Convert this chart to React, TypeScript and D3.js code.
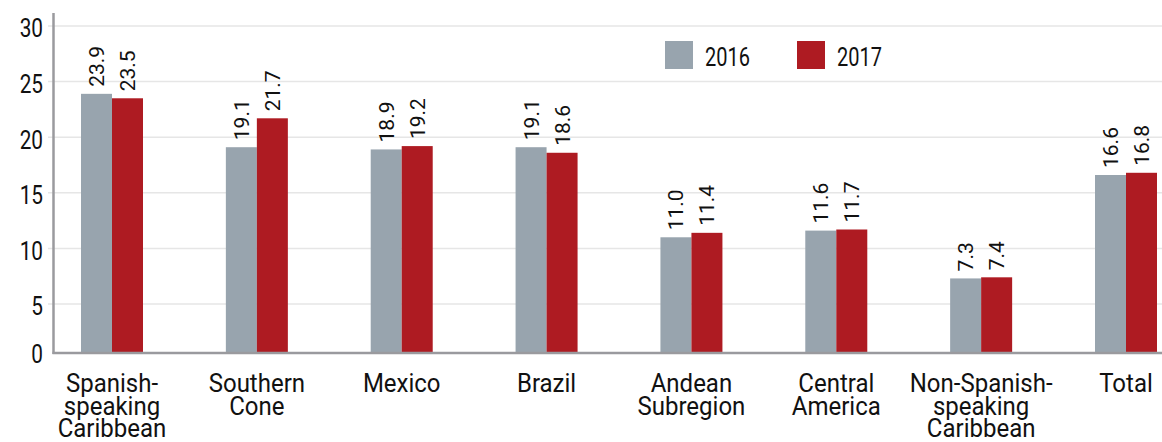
import React from "react";
import * as d3 from "d3";

const categories = [
  ["Spanish-", "speaking", "Caribbean"],
  ["Southern", "Cone"],
  ["Mexico"],
  ["Brazil"],
  ["Andean", "Subregion"],
  ["Central", "America"],
  ["Non-Spanish-", "speaking", "Caribbean"],
  ["Total"],
];
const categoryKeys = categories.map((c) => c.join(" "));
const values2016 = [23.9, 19.1, 18.9, 19.1, 11.0, 11.6, 7.3, 16.6];
const values2017 = [23.5, 21.7, 19.2, 18.6, 11.4, 11.7, 7.4, 16.8];
const yTicks = [0, 5, 10, 15, 20, 25, 30];
const seriesNames = ["2016", "2017"];
const colors = ["#98a4ae", "#ae1b22"];

const W = 1162;
const H = 442;
const FONT = "Roboto, 'Noto Sans', sans-serif";

export default function App() {
  const y = d3.scaleLinear().domain([0, 30]).range([359.6, 26]);
  const x = d3.scalePoint<string>().domain(categoryKeys).range([112, 1126]);
  const baseY = 353;
  const axisX = 53.5;
  const bw = 31;

  return (
    <svg width={W} height={H} style={{ position: "absolute", left: 0, top: 0, fontFamily: FONT }}>
      {yTicks.map((t) =>
        t === 0 ? null : (
          <line key={"g" + t} x1={48} x2={W} y1={y(t)} y2={y(t)} stroke="#e6e6e6" strokeWidth={1.5} />
        )
      )}
      {yTicks.map((t) => (
        <text
          key={"t" + t}
          transform={`translate(43,${t === 0 ? baseY + 1 : y(t) + 2}) scale(0.8,1)`}
          dy="0.36em"
          textAnchor="end"
          fontSize={26}
          fill="#111"
        >
          {t}
        </text>
      ))}
      {categoryKeys.map((k, i) => {
        const c = x(k)!;
        const v = [values2016[i], values2017[i]];
        return (
          <g key={k}>
            {v.map((val, s) => {
              const x0 = s === 0 ? c - bw : c;
              const top = y(val);
              return (
                <g key={s}>
                  <rect x={x0} y={top} width={bw} height={baseY - top} fill={colors[s]} />
                  <text
                    transform={`translate(${x0 + bw / 2},${top - 7}) rotate(-90)`}
                    dy="0.36em"
                    textAnchor="start"
                    fontSize={21}
                    fill="#111"
                  >
                    {val.toFixed(1)}
                  </text>
                </g>
              );
            })}
            <text transform={`translate(${c},392) scale(0.96,1)`} textAnchor="middle" fontSize={25} fill="#111">
              {categories[i].map((line, j) => (
                <tspan key={j} x={0} y={j * 22.5}>
                  {line}
                </tspan>
              ))}
            </text>
          </g>
        );
      })}
      <line x1={axisX} x2={axisX} y1={13} y2={baseY + 1} stroke="#9a9a9e" strokeWidth={2.5} />
      <line x1={axisX - 1} x2={W} y1={baseY} y2={baseY} stroke="#9a9a9e" strokeWidth={2.5} />
      {seriesNames.map((n, i) => (
        <g key={n} transform={`translate(${665 + i * 132},41)`}>
          <rect width={28} height={28} fill={colors[i]} />
          <text transform="translate(40,24.5) scale(0.8,1)" fontSize={25} fill="#111">
            {n}
          </text>
        </g>
      ))}
    </svg>
  );
}
